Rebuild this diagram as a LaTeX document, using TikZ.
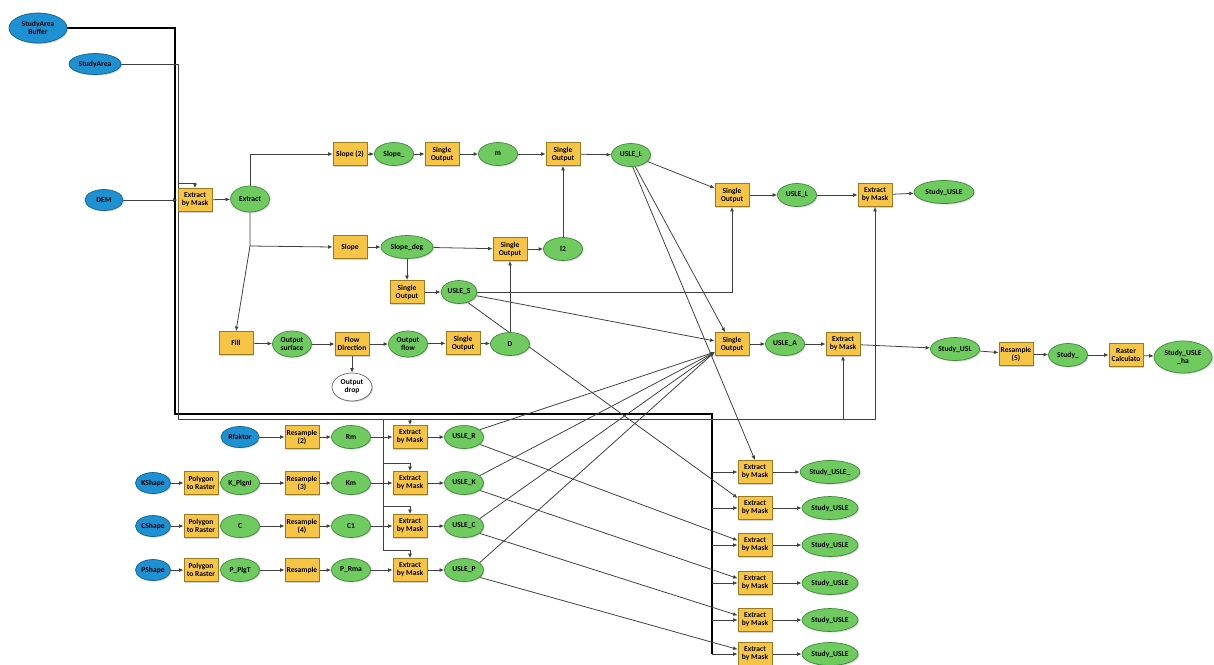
\documentclass[tikz,border=0pt]{standalone}
\usepackage{fontspec}
\setmainfont{Carlito}
\usetikzlibrary{arrows.meta,shapes.geometric,shadows,backgrounds}

\definecolor{toolfill}{HTML}{F7C545}
\definecolor{toolline}{HTML}{9A7A20}
\definecolor{datafill}{HTML}{6FCB60}
\definecolor{dataline}{HTML}{3C8A36}
\definecolor{inputfill}{HTML}{1E91D2}
\definecolor{inputline}{HTML}{11608F}

\tikzset{
  base/.style={draw,align=center,inner sep=0.4pt,
    font=\bfseries\fontsize{4.3}{4.6}\selectfont,
    drop shadow={shadow xshift=0.6pt,shadow yshift=-0.6pt,opacity=0.35}},
  tool/.style={base,rectangle,fill=toolfill,draw=toolline,minimum width=0.68cm,minimum height=0.46cm},
  data/.style={base,ellipse,fill=datafill,draw=dataline,minimum width=0.78cm,minimum height=0.46cm},
  input/.style={base,ellipse,fill=inputfill,draw=inputline,minimum width=0.76cm,minimum height=0.42cm},
  temp/.style={base,ellipse,fill=white,draw=black!60,minimum width=0.8cm,minimum height=0.56cm},
  link/.style={->,draw=black!75,line width=0.45pt},
  plain/.style={draw=black!75,line width=0.45pt},
  mask/.style={draw=black,line width=1.1pt},
}

\begin{document}
\begin{tikzpicture}[x=0.02cm,y=-0.02cm,>={Latex[length=2.6pt,width=2.2pt]}]
  \useasboundingbox (0,0) rectangle (1214,664);

  % inputs
  \node[input,minimum width=1.16cm,minimum height=0.6cm] (buf) at (38,28) {StudyArea\\Buffer};
  \node[input,minimum width=1.04cm] (sa) at (95,64) {StudyArea};
  \node[input] (dem) at (104,200) {DEM};

  % terrain part
  \node[tool] (ebm0) at (195,200) {Extract\\by Mask};
  \node[data,minimum height=0.52cm] (ext) at (250,199) {Extract};
  \node[tool] (slope2) at (350,154) {Slope (2)};
  \node[data] (slp) at (394,154) {Slope\_};
  \node[tool] (so1) at (442,154) {Single\\Output};
  \node[data] (m) at (498,154) {m};
  \node[tool] (so2) at (563,154) {Single\\Output};
  \node[data] (ul) at (631,155) {USLE\_L};
  \node[tool] (slope) at (350,247) {Slope};
  \node[data,minimum width=1.04cm] (sdeg) at (407,247) {Slope\_deg};
  \node[tool] (so3) at (510,249) {Single\\Output};
  \node[data] (l2) at (563,249) {l2};
  \node[tool] (so4) at (407,292) {Single\\Output};
  \node[data,minimum width=0.72cm] (us) at (459,292) {USLE\_S};
  \node[tool] (fill) at (236,343) {Fill};
  \node[data,minimum height=0.52cm] (osurf) at (292,344) {Output\\surface};
  \node[tool] (fdir) at (352,344) {Flow\\Direction};
  \node[data,minimum height=0.52cm] (oflow) at (408,344) {Output\\flow};
  \node[tool] (so5) at (463,343) {Single\\Output};
  \node[data] (d) at (510,344) {D};
  \node[temp] (drop) at (352,387) {Output\\drop};

  % combining
  \node[tool] (so6) at (732,195) {Single\\Output};
  \node[data] (uls) at (797,195) {USLE\_L};
  \node[tool] (ebm1) at (875,195) {Extract\\by Mask};
  \node[data,minimum width=1.2cm] (stu0) at (944,192) {Study\_USLE};
  \node[tool] (so7) at (732,344) {Single\\Output};
  \node[data] (ua) at (785,344) {USLE\_A};
  \node[tool] (ebm2) at (843,344) {Extract\\by Mask};
  \node[data,minimum width=0.9cm] (stul) at (955,349) {Study\_USL};
  \node[tool] (res5) at (1016,354) {Resample\\(5)};
  \node[data] (stu) at (1068,355) {Study\_};
  \node[tool] (rcalc) at (1126,355) {Raster\\Calculato};
  \node[data,minimum width=1.16cm,minimum height=0.64cm] (ha) at (1183,357) {Study\_USLE\\\_ha};

  % factor rows
  \node[input] (shpR) at (240,437) {Rfaktor};
  \node[tool] (resR) at (302,437) {Resample\\(2)};
  \node[data] (rvR) at (351,437) {Rm};
  \node[tool] (ebmR) at (410,437) {Extract\\by Mask};
  \node[data] (uR) at (464,437) {USLE\_R};
  \foreach \r/\y/\shp/\pl/\rs/\rv in {K/483/KShape/K\_PlgnI/Resample\\(3)/Km,
      C/526/CShape/C/Resample\\(4)/C1, P/570/PShape/P\_PlgT/Resample/P\_Rma} {
    \node[input,minimum width=0.7cm] (shp\r) at (153,\y) {\shp};
    \node[tool] (p2r\r) at (201,\y) {Polygon\\to Raster};
    \node[data] (pl\r) at (240,\y) {\pl};
    \node[tool] (res\r) at (302,\y) {\rs};
    \node[data] (rv\r) at (351,\y) {\rv};
    \node[tool] (ebm\r) at (410,\y) {Extract\\by Mask};
    \node[data] (u\r) at (464,\y) {USLE\_\r};
  }

  % study area clips
  \foreach \i/\y/\t in {1/472/Study\_USLE\_, 2/508/Study\_USLE, 3/545/Study\_USLE,
      4/583/Study\_USLE, 5/620/Study\_USLE, 6/654/Study\_USLE} {
    \node[tool] (x\i) at (755,\y) {Extract\\by Mask};
    \node[data,minimum width=1.12cm] (s\i) at (830,\y) {\t};
  }

  \coordinate (bufturn) at (175,28);
  \coordinate (bufdown) at (175,414);
  \coordinate (saturn) at (178,64);
  \coordinate (sadown) at (178,419);
  \coordinate (sahook) at (178,183);
  \coordinate (mk) at (712,0);
  \coordinate (hk) at (383,0);
  \coordinate (eb) at (250,246);

  \begin{scope}[on background layer]
    \draw[mask] (buf.east) -- (bufturn) -- (bufdown) -- (mk |- bufdown) -- (mk |- x6.west);
    \draw[link] (sa.east) -- (saturn) -- (sadown) -| (ebm1.south);
    \draw[link] (sahook) -| (ebm0.north);
    \draw[link] (ebm2.south |- sadown) -- (ebm2.south);
    \draw[link] (ebmR.north |- sadown) -- (ebmR.north);
    \foreach \r in {K,C,P} {
      \path (ebm\r.north) ++(0,-8) coordinate (h\r);
      \draw[link] (h\r -| hk) -- (h\r) -- (ebm\r.north);
    }
    \draw[plain] (hk |- sadown) -- (hk |- hP);
    \foreach \i in {1,...,6} {
      \draw[link] (x\i.west -| mk) -- (x\i.west);
      \draw[link] (x\i) -- (s\i);
    }

    \draw[link] (dem) -- (ebm0);
    \draw[link] (ebm0) -- (ext);
    \draw[link] (ext.north) |- (slope2.west);
    \draw[link] (ext.south) -- (eb) -- (slope.west);
    \draw[link] (eb) -- (fill.north);
    \foreach \a/\b in {slope2/slp, slp/so1, so1/m, m/so2, so2/ul, slope/sdeg, sdeg/so3,
        so3/l2, l2/so2, sdeg/so4, so4/us, fill/osurf, osurf/fdir, fdir/oflow, oflow/so5,
        so5/d, d/so3, fdir/drop, ul/so6, so6/uls, uls/ebm1, ebm1/stu0, so7/ua, ua/ebm2,
        ebm2/stul, stul/res5, res5/stu, stu/rcalc, rcalc/ha}
      \draw[link] (\a) -- (\b);
    \draw[link] (us.east) -| (so6.south);
    \draw[link] (us.-12) -- (so7.170);
    \draw[link] (us.-50) -- (x2.150);
    \draw[link] (ul.-70) -- (so7.120);
    \draw[link] (ul.-82) -- (x1.north);

    \foreach \r/\k in {R/3,K/4,C/5,P/6} {
      \draw[link] (res\r) -- (rv\r);
      \draw[link] (rv\r) -- (ebm\r);
      \draw[link] (ebm\r) -- (u\r);
      \draw[link] (u\r.25) -- (so7.205);
      \draw[link] (u\r.-25) -- (x\k.165);
    }
    \draw[link] (shpR) -- (resR);
    \foreach \r in {K,C,P} {
      \draw[link] (shp\r) -- (p2r\r);
      \draw[link] (p2r\r) -- (pl\r);
      \draw[link] (pl\r) -- (res\r);
    }
  \end{scope}
\end{tikzpicture}
\end{document}
